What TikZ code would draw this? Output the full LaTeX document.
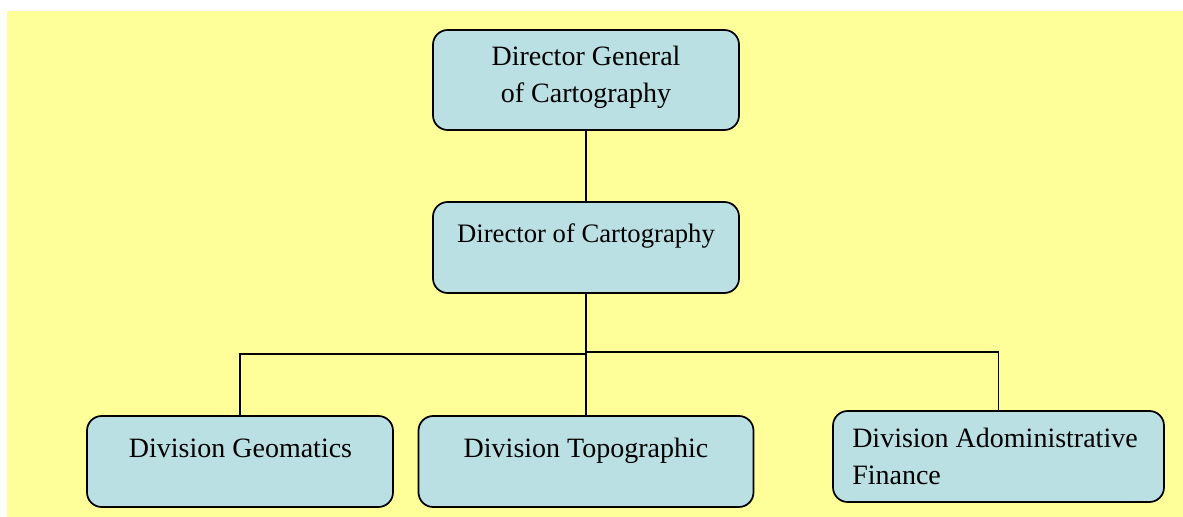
\documentclass[tikz,border=0pt]{standalone}
\usepackage{fontspec}
\setmainfont{Liberation Serif}
\definecolor{bgyellow}{HTML}{FFFF99}
\definecolor{boxblue}{HTML}{BBE0E3}
\begin{document}
\begin{tikzpicture}[x=0.75pt,y=-0.75pt,
  box/.style={draw=black, line width=1.3pt, fill=boxblue, rounded corners=11pt, inner sep=0pt},
  lbl/.style={inner sep=0pt, font=\fontsize{21}{28}\selectfont, anchor=base},
  conn/.style={draw=black, line width=1.35pt}]
\useasboundingbox (0,0) rectangle (1183,517);
\fill[bgyellow] (7,11) rectangle (1183,517);
% boxes
\node[box, minimum width=306*0.75pt, minimum height=100*0.75pt] (top) at (586,80) {};
\node[box, minimum width=306*0.75pt, minimum height=91*0.75pt] (mid) at (586,247.5) {};
\node[box, minimum width=306*0.75pt, minimum height=91*0.75pt] (geo) at (240,461.5) {};
\node[box, minimum width=335*0.75pt, minimum height=91*0.75pt] (topo) at (586,461.5) {};
\node[box, minimum width=331*0.75pt, minimum height=91*0.75pt] (fin) at (998.5,456.5) {};
% texts
\node[lbl] (t1a) at (586,66) {Director General};
\node[lbl] (t1b) at (586,103) {of Cartography};
\node[lbl, font=\fontsize{20}{28}\selectfont] (t2) at (586,243) {Director of Cartography};
\node[lbl] (t3) at (240.5,457) {Division Geomatics};
\node[lbl] (t4) at (586,457) {Division Topographic};
\node[lbl, anchor=base west] (t5a) at (852,447) {Division Adoministrative};
\node[lbl, anchor=base west] (t5b) at (852,484) {Finance};
% connectors
\coordinate (jL) at (586,354);
\coordinate (jR) at (586,352);
\draw[conn] (top.south) -- (mid.north);
\draw[conn] (mid.south) -- (topo.north);
\draw[conn] (geo.north) |- (jL);
\draw[conn] (fin.north) |- (jR);
\end{tikzpicture}
\end{document}
